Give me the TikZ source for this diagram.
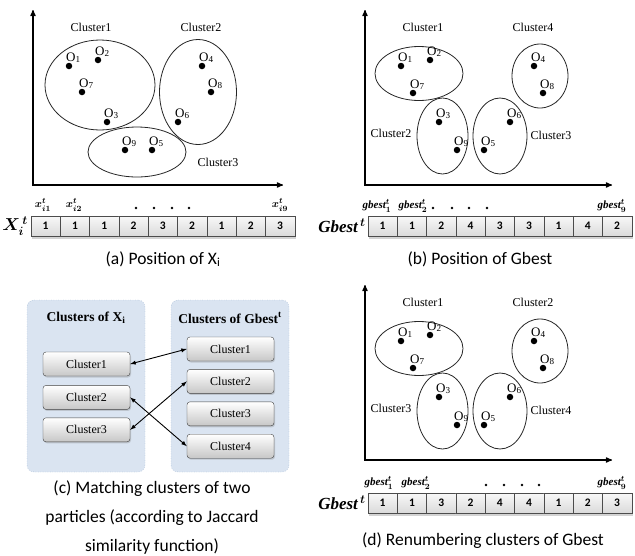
\documentclass[tikz,border=0pt]{standalone}
\usepackage{amsmath}
\usepackage{fontspec}
\setmainfont{Liberation Serif}
\newfontfamily\capfont{Carlito}
\usetikzlibrary{shapes.geometric, arrows, positioning, shadows}

\definecolor{groupblue}{HTML}{DAE4F1}
\definecolor{groupline}{HTML}{6F8FB5}
\definecolor{celltop}{HTML}{F8F8F8}
\definecolor{cellbot}{HTML}{DADADA}

% one object: dot plus its O label
\newcommand{\objdot}[4]{%
  \node[dot] (#1) at (#2,#3) {};
  \node[olabel, anchor=base west] at (#2-3,#3-5) {O\textsubscript{#4}};
}

% row of nine cells with a shadow under it
\newcommand{\cellrow}[4]{%
  \node[rowshadow, minimum width=9*29.3pt] (#1row) at (#2+4.5*29.3,#3) {};
  \foreach \v [count=\k] in {#4}
    \node[cell, minimum width=29.3pt] (#1\k) at (#2+29.3*\k-14.65,#3) {\v};
}

% scatter plot with four clusters, used for (b) and (d)
\newcommand{\scatterpanel}[6]{%
  \begin{scope}[shift={(0,#2)}]
    \coordinate (#1O) at (365,185);
    \coordinate (#1Y) at (365,10);
    \coordinate (#1X) at (612,185);
    \draw[axis] (#1Y) -- (#1O) -- (#1X);
    \node[cluster, minimum width=88pt, minimum height=54pt] (#1-c1) at (419,73.5) {};
    \node[cluster, minimum width=56pt, minimum height=64pt] (#1-c2) at (540,76) {};
    \node[cluster, minimum width=51pt, minimum height=76pt] (#1-c3) at (442.5,136) {};
    \node[cluster, minimum width=54pt, minimum height=76pt] (#1-c4) at (500,136) {};
    \node[clabel] at (423,27) {#3};
    \node[clabel] at (533,27) {#4};
    \node[clabel] at (391,133) {#5};
    \node[clabel] at (551,135) {#6};
    \objdot{#1-o1}{401}{66}{1}
    \objdot{#1-o2}{430}{60}{2}
    \objdot{#1-o7}{413}{93}{7}
    \objdot{#1-o4}{534}{66}{4}
    \objdot{#1-o8}{543}{93}{8}
    \objdot{#1-o3}{439}{122}{3}
    \objdot{#1-o9}{457}{150}{9}
    \objdot{#1-o6}{510}{122}{6}
    \objdot{#1-o5}{484}{150}{5}
  \end{scope}
}

\begin{document}
\begin{tikzpicture}[
    x=1pt, y=-1pt,
    axis/.style={line width=1.2pt, <->, >=stealth'},
    cluster/.style={ellipse, draw=black!85, line width=0.8pt, inner sep=0pt},
    clabel/.style={font=\fontsize{12}{14}\selectfont},
    dot/.style={circle, fill=black, inner sep=0pt, minimum size=6.5pt},
    olabel/.style={font=\fontsize{13}{15}\selectfont, inner sep=0pt},
    cell/.style={rectangle, draw=black!70, top color=celltop, bottom color=cellbot, minimum height=20pt, inner sep=0pt, font=\capfont\bfseries\fontsize{11.5}{13}\selectfont},
    rowshadow/.style={rectangle, fill=white, minimum height=20pt, drop shadow={shadow xshift=1pt, shadow yshift=-3pt, opacity=0.35}},
    vlabel/.style={font=\bfseries\itshape\boldmath\fontsize{17}{19}\selectfont},
    idx/.style={font=\bfseries\itshape\boldmath\fontsize{11}{13}\selectfont, inner sep=0pt},
    group/.style={rectangle, rounded corners=7pt, draw=groupline, dotted, fill=groupblue, minimum width=118pt, minimum height=172pt},
    gtitle/.style={font=\bfseries\fontsize{13.5}{15}\selectfont},
    clbox/.style={rectangle, rounded corners=3pt, draw=black!75, top color=white, bottom color=black!22, minimum width=87pt, minimum height=24pt, font=\fontsize{12}{14}\selectfont, drop shadow={shadow xshift=1pt, shadow yshift=-1.5pt, opacity=0.3}},
    match/.style={<->, >=latex, line width=0.9pt},
    caption/.style={font=\capfont\fontsize{17.5}{29}\selectfont, align=center}
]
\useasboundingbox (0,0) rectangle (635,555);

% (a) position of X_i
\coordinate (aO) at (33,185);
\coordinate (aY) at (33,10);
\coordinate (aX) at (283,185);
\draw[axis] (aY) -- (aO) -- (aX);
\node[cluster, minimum width=110pt, minimum height=90pt] (a-c1) at (100,85) {};
\node[cluster, minimum width=77pt, minimum height=105pt] (a-c2) at (198,92) {};
\node[cluster, minimum width=98pt, minimum height=50pt] (a-c3) at (137,152) {};
\node[clabel] at (91,27) {Cluster1};
\node[clabel] at (201,27) {Cluster2};
\node[clabel] at (218,162) {Cluster3};
\objdot{a-o1}{69}{66}{1}
\objdot{a-o2}{98}{60}{2}
\objdot{a-o7}{82}{92}{7}
\objdot{a-o3}{107}{122}{3}
\objdot{a-o4}{202}{66}{4}
\objdot{a-o8}{211}{92}{8}
\objdot{a-o6}{178}{122}{6}
\objdot{a-o9}{125}{150}{9}
\objdot{a-o5}{152}{150}{5}

\cellrow{a}{31}{226}{1,1,1,2,3,2,1,2,3}
\node[vlabel] (xlab) at (15,226) {$X_i^{\,t}$};
\node[idx] at (43,205) {$x_{i1}^{t}$};
\node[idx] at (74,205) {$x_{i2}^{t}$};
\foreach \px in {136,154,172,189}
  \fill (\px,208) circle (1.3pt);
\node[idx] at (280,205) {$x_{i9}^{t}$};
\node[caption] (capa) at (163,259) {(a) Position of X\textsubscript{i}};

% (b) position of Gbest
\scatterpanel{b}{0}{Cluster1}{Cluster4}{Cluster2}{Cluster3}
\cellrow{b}{368}{226}{1,1,2,4,3,3,1,4,2}
\node[vlabel] (gblab) at (342,226) {Gbest$^{\,t}$};
\node[idx] at (377,206) {gbest$_1^t$};
\node[idx] at (413,206) {gbest$_2^t$};
\foreach \px in {433,452,469,487}
  \fill (\px,208) circle (1.3pt);
\node[idx] at (612,206) {gbest$_9^t$};
\node[caption] (capb) at (480,259) {(b) Position of Gbest};

% (c) matching clusters
\node[group] (gx) at (86,386) {};
\node[group] (gg) at (230,386) {};
\node[gtitle] at (86,318) {Clusters of X\textsubscript{i}};
\node[gtitle] at (230,318) {Clusters of Gbest\textsuperscript{t}};
\node[clbox] (xc1) at (86.5,364) {Cluster1};
\node[clbox, below=9pt of xc1] (xc2) {Cluster2};
\node[clbox, below=8pt of xc2] (xc3) {Cluster3};
\node[clbox] (gc1) at (230.5,349) {Cluster1};
\node[clbox, below=8pt of gc1] (gc2) {Cluster2};
\node[clbox, below=8pt of gc2] (gc3) {Cluster3};
\node[clbox, below=8pt of gc3] (gc4) {Cluster4};
\draw[match] (xc1.east) -- (gc1.west);
\draw[match] (xc2.east) -- (gc4.west);
\draw[match] (xc3.east) -- (gc2.west);
\node[caption] (capc) at (152,518) {(c) Matching clusters of two\\particles (according to Jaccard\\similarity function)};

% (d) renumbering clusters of Gbest
\scatterpanel{d}{275}{Cluster1}{Cluster2}{Cluster3}{Cluster4}
\cellrow{d}{368}{503}{1,1,3,2,4,4,1,2,3}
\node[vlabel] (gdlab) at (342,503) {Gbest$^{\,t}$};
\node[idx] at (379,483) {gbest$_1^t$};
\node[idx] at (416,483) {gbest$_2^t$};
\foreach \px in {486,504,522,539}
  \fill (\px,485) circle (1.3pt);
\node[idx] at (612,483) {gbest$_9^t$};
\node[caption] (capd) at (483,541) {(d) Renumbering clusters of Gbest};

\end{tikzpicture}
\end{document}
